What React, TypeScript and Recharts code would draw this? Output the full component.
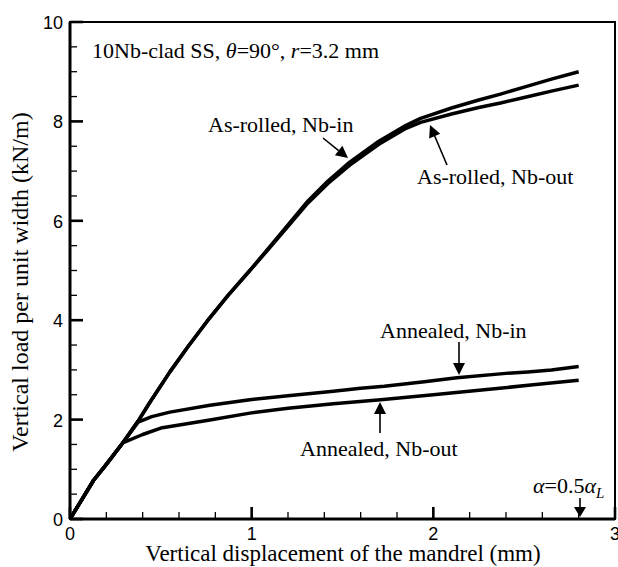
import React from 'react';
import { LineChart, Line, XAxis, YAxis, ReferenceArea } from 'recharts';

// as-rolled samples (shared x)
const asRolledX = [0, 0.05, 0.13, 0.2, 0.29, 0.375, 0.44, 0.55, 0.65, 0.755, 0.87, 0.99, 1.1, 1.2, 1.31, 1.42, 1.54, 1.7, 1.85, 1.93, 2.1, 2.25, 2.37, 2.5, 2.65, 2.8];
const asRolledNbIn = [0, 0.3, 0.78, 1.1, 1.53, 1.97, 2.35, 2.96, 3.47, 3.98, 4.5, 5.0, 5.48, 5.92, 6.4, 6.8, 7.18, 7.6, 7.92, 8.06, 8.27, 8.43, 8.55, 8.69, 8.85, 9.0];
const asRolledNbOut = [0, 0.3, 0.78, 1.1, 1.53, 1.97, 2.35, 2.96, 3.47, 3.98, 4.5, 5.0, 5.46, 5.89, 6.36, 6.75, 7.12, 7.54, 7.86, 7.98, 8.15, 8.28, 8.37, 8.48, 8.61, 8.73];

const annealedInX = [0, 0.05, 0.13, 0.2, 0.29, 0.375, 0.45, 0.55, 0.77, 0.99, 1.2, 1.45, 1.6, 1.73, 1.95, 2.13, 2.4, 2.52, 2.65, 2.8];
const annealedNbIn = [0, 0.3, 0.78, 1.1, 1.53, 1.95, 2.06, 2.15, 2.29, 2.4, 2.48, 2.57, 2.63, 2.67, 2.76, 2.84, 2.93, 2.96, 3.0, 3.07];

const annealedOutX = [0, 0.05, 0.13, 0.2, 0.29, 0.4, 0.5, 0.77, 0.99, 1.2, 1.45, 1.71, 2.0, 2.28, 2.55, 2.8];
const annealedNbOut = [0, 0.3, 0.78, 1.1, 1.53, 1.7, 1.83, 1.99, 2.13, 2.23, 2.32, 2.4, 2.5, 2.6, 2.7, 2.79];

const xTicks = [0, 0.2, 0.4, 0.6, 0.8, 1, 1.2, 1.4, 1.6, 1.8, 2, 2.2, 2.4, 2.6, 2.8, 3];
const yTicks = [0, 0.5, 1, 1.5, 2, 2.5, 3, 3.5, 4, 4.5, 5, 5.5, 6, 6.5, 7, 7.5, 8, 8.5, 9, 9.5, 10];

const toRows = (xs: number[], ys: number[]) => xs.map((x, i) => ({ x, y: ys[i] }));

const serif = '"Liberation Serif", "Times New Roman", serif';
const sans = '"Liberation Sans", Arial, sans-serif';

const isInt = (v: number) => Math.abs(v - Math.round(v)) < 1e-6;

const XTick = (props: any) => {
  const { x, y, payload } = props;
  const major = isInt(payload.value);
  return (
    <g>
      <line x1={x} y1={y} x2={x} y2={y - (major ? 12 : 7)} stroke="#000" strokeWidth={major ? 2.6 : 1.3} />
      {major && (
        <text x={x} y={y + 21} textAnchor="middle" fontFamily={sans} fontSize={18} fill="#000">
          {payload.value}
        </text>
      )}
    </g>
  );
};

const YTick = (props: any) => {
  const { x, y, payload } = props;
  const major = payload.value % 2 === 0;
  return (
    <g>
      <line x1={x} y1={y} x2={x + (major ? 13 : 7)} y2={y} stroke="#000" strokeWidth={major ? 2.6 : 1.3} />
      {major && (
        <text x={x - 7} y={y + 7} textAnchor="end" fontFamily={sans} fontSize={18} fill="#000">
          {payload.value}
        </text>
      )}
    </g>
  );
};

const Arrow = ({ x1, y1, x2, y2, head = 12, half = 6 }: any) => {
  const dx = x2 - x1, dy = y2 - y1;
  const len = Math.hypot(dx, dy);
  const ux = dx / len, uy = dy / len;
  const bx = x2 - ux * head, by = y2 - uy * head;
  const pts = `${x2},${y2} ${bx - uy * half},${by + ux * half} ${bx + uy * half},${by - ux * half}`;
  return (
    <g>
      <line x1={x1} y1={y1} x2={bx} y2={by} stroke="#000" strokeWidth={1.6} />
      <polygon points={pts} fill="#000" />
    </g>
  );
};

export default function App() {
  const lineProps = {
    type: 'linear' as const,
    dataKey: 'y',
    stroke: '#000',
    strokeWidth: 3.5,
    dot: false,
    isAnimationActive: false,
    strokeLinejoin: 'round' as const,
  };
  return (
    <div style={{ position: 'absolute', left: 0, top: 0, width: 618, height: 567, background: '#fff' }}>
      <LineChart width={618} height={567} margin={{ top: 22, right: 3, left: 0, bottom: 0 }}>
        <XAxis
          type="number"
          dataKey="x"
          domain={[0, 3]}
          ticks={xTicks}
          interval={0}
          height={48}
          tickSize={0}
          tickMargin={0}
          tickLine={false}
          axisLine={{ stroke: '#000', strokeWidth: 3 }}
          tick={<XTick />}
          allowDataOverflow
        />
        <YAxis
          type="number"
          domain={[0, 10]}
          ticks={yTicks}
          interval={0}
          width={70}
          tickSize={0}
          tickMargin={0}
          tickLine={false}
          axisLine={{ stroke: '#000', strokeWidth: 3 }}
          tick={<YTick />}
          allowDataOverflow
        />
        <ReferenceArea x1={0} x2={3} y1={0} y2={10} fill="none" stroke="#000" strokeWidth={2} />
        <Line {...lineProps} data={toRows(asRolledX, asRolledNbIn)} name="As-rolled, Nb-in" />
        <Line {...lineProps} data={toRows(asRolledX, asRolledNbOut)} name="As-rolled, Nb-out" />
        <Line {...lineProps} data={toRows(annealedInX, annealedNbIn)} name="Annealed, Nb-in" />
        <Line {...lineProps} data={toRows(annealedOutX, annealedNbOut)} name="Annealed, Nb-out" />
      </LineChart>
      <svg width={618} height={567} style={{ position: 'absolute', left: 0, top: 0, pointerEvents: 'none' }}>
        <g fontFamily={serif} fill="#000">
          <text x={92} y={58} fontSize={22}>
            10Nb-clad SS, <tspan fontStyle="italic">θ</tspan>=90°, <tspan fontStyle="italic">r</tspan>=3.2 mm
          </text>
          <text x={208} y={132} fontSize={22}>As-rolled, Nb-in</text>
          <text x={417} y={184} fontSize={22}>As-rolled, Nb-out</text>
          <text x={380} y={338} fontSize={22}>Annealed, Nb-in</text>
          <text x={300} y={456} fontSize={22}>Annealed, Nb-out</text>
          <text x={533} y={493} fontSize={22}>
            <tspan fontStyle="italic">α</tspan>=0.5<tspan fontStyle="italic">α</tspan>
            <tspan fontStyle="italic" fontSize={15} dy={5}>L</tspan>
          </text>
          <text x={343} y={561} fontSize={23} textAnchor="middle">Vertical displacement of the mandrel (mm)</text>
          <text x={28} y={282} fontSize={24} textAnchor="middle" transform="rotate(-90, 28, 282)">
            Vertical load per unit width (kN/m)
          </text>
        </g>
        <Arrow x1={323} y1={138} x2={348} y2={158} />
        <Arrow x1={447} y1={165} x2={430} y2={125} />
        <Arrow x1={459} y1={342} x2={459} y2={375} />
        <Arrow x1={380} y1={433} x2={380} y2={402} />
        <Arrow x1={580} y1={498} x2={580} y2={517} head={10} half={6} />
      </svg>
    </div>
  );
}
